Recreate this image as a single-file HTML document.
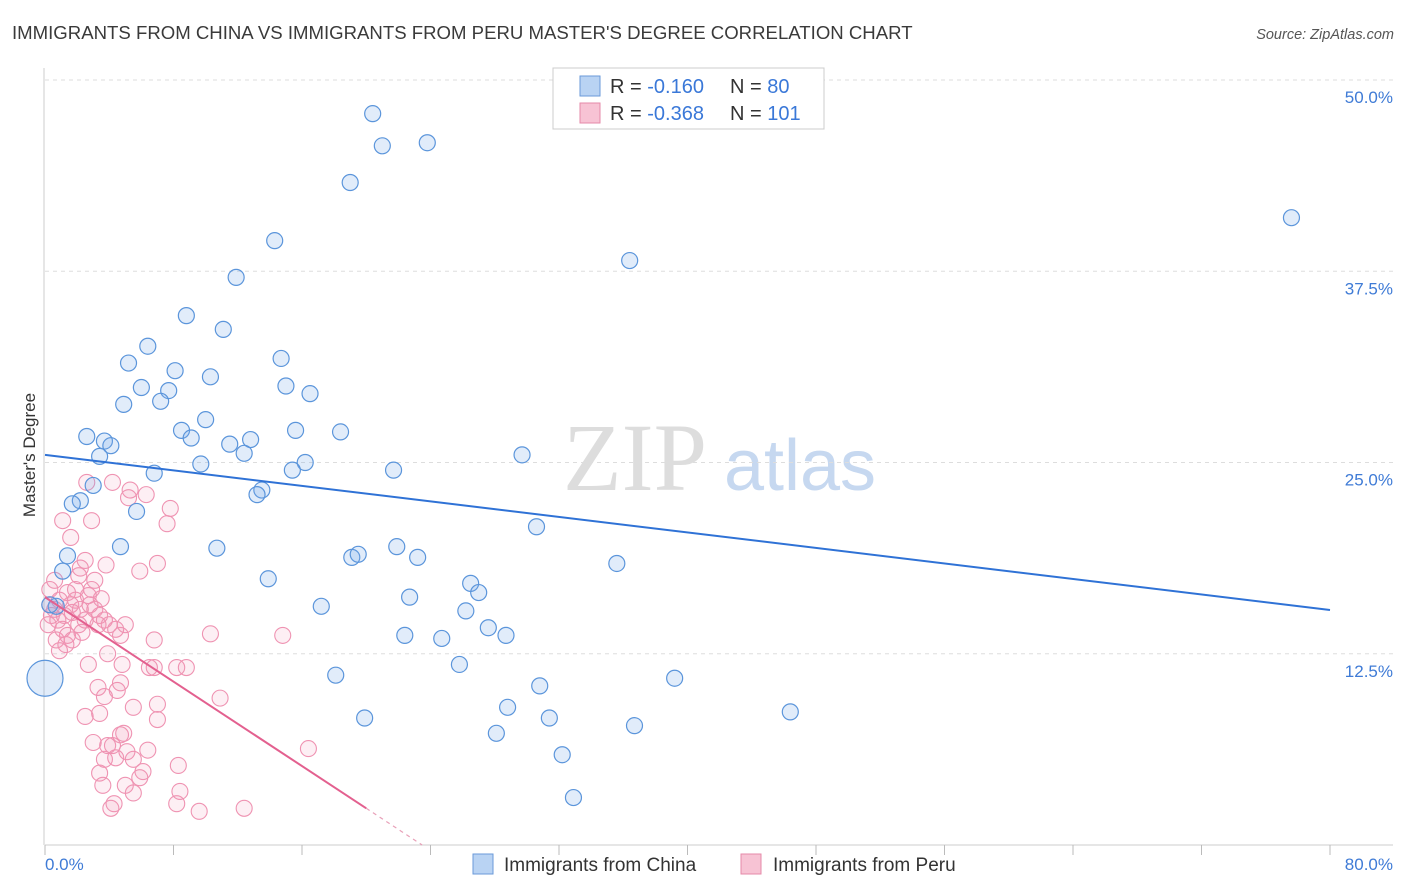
<!DOCTYPE html>
<html><head><meta charset="utf-8"><style>
body{margin:0;background:#fff;font-family:"Liberation Sans",sans-serif;}
#wrap{position:relative;width:1406px;height:892px;overflow:hidden;}
</style></head><body>
<div id="wrap">
<svg id="chart" width="1406" height="892" style="position:absolute;left:0;top:0;font-family:'Liberation Sans',sans-serif">
<text x="12" y="39" font-size="18.6" fill="#3a3a3a">IMMIGRANTS FROM CHINA VS IMMIGRANTS FROM PERU MASTER'S DEGREE CORRELATION CHART</text>
<text x="1394" y="39" font-size="14.5" fill="#555" text-anchor="end" font-style="italic">Source: ZipAtlas.com</text>
<text x="35" y="455" font-size="17" fill="#333" text-anchor="middle" transform="rotate(-90 35 455)">Master's Degree</text>
<g>
<text x="635" y="490" font-size="96" fill="#ddd" text-anchor="middle" font-family="Liberation Serif,serif">ZIP</text>
<text x="800" y="490" font-size="72" fill="#c6d8f0" text-anchor="middle">atlas</text>
</g>
<g id="grid"></g><g id="axes"></g><g id="pts"></g><g id="lines"></g>
<g>
<rect x="553" y="68" width="271" height="61" fill="#fff" stroke="#ccc"/>
<rect x="580" y="76" width="20" height="20" fill="#b9d3f3" stroke="#6a9ad8"/>
<rect x="580" y="103" width="20" height="20" fill="#f7c3d4" stroke="#e58aa8"/>
<text x="610" y="93" font-size="20" fill="#333">R = <tspan fill="#3a78d8">-0.160</tspan></text>
<text x="730" y="93" font-size="20" fill="#333">N = <tspan fill="#3a78d8"> 80</tspan></text>
<text x="610" y="120" font-size="20" fill="#333">R = <tspan fill="#3a78d8">-0.368</tspan></text>
<text x="730" y="120" font-size="20" fill="#333">N = <tspan fill="#3a78d8">101</tspan></text>
</g>
<g>
<rect x="473" y="854" width="20" height="20" fill="#b9d3f3" stroke="#6a9ad8"/>
<text x="504" y="871" font-size="19" fill="#333">Immigrants from China</text>
<rect x="741" y="854" width="20" height="20" fill="#f7c3d4" stroke="#e58aa8"/>
<text x="773" y="871" font-size="19" fill="#333">Immigrants from Peru</text>
</g>
</svg>
</div>
<script>
const yTicks=[12.5,25,37.5,50];
const yTickLabels=["12.5%","25.0%","37.5%","50.0%"];
const xTickCount=10;
const xTickLabels=["0.0%","80.0%"];
const chinaX=[20.4,21.0,23.8,19.0,77.6,14.3,36.4,11.9,8.8,11.1,6.4,5.2,8.1,14.7,10.3,6.0,7.7,15.0,16.5,4.9,7.2,10.0,8.5,9.1,2.6,3.7,4.1,3.4,11.5,12.8,12.4,15.6,18.4,9.7,16.2,15.4,6.8,21.7,29.7,13.5,13.2,3.0,2.2,1.7,5.7,30.6,4.7,10.7,21.9,1.4,19.1,19.5,23.2,35.6,1.1,13.9,26.5,27.0,22.7,17.2,26.2,27.6,28.7,22.4,24.7,25.8,18.1,39.2,30.8,28.8,46.4,19.9,31.4,36.7,28.1,32.2,32.9,0,0.7,0.3];
const chinaY=[47.8,45.7,45.9,43.3,41.0,39.5,38.2,37.1,34.6,33.7,32.6,31.5,31.0,31.8,30.6,29.9,29.7,30.0,29.5,28.8,29.0,27.8,27.1,26.6,26.7,26.4,26.1,25.4,26.2,26.5,25.6,27.1,27.0,24.9,25.0,24.5,24.3,24.5,25.5,23.2,22.9,23.5,22.5,22.3,21.8,20.8,19.5,19.4,19.5,18.9,18.8,19.0,18.8,18.4,17.9,17.4,17.1,16.5,16.2,15.6,15.3,14.2,13.7,13.7,13.5,11.8,11.1,10.9,10.4,9.0,8.7,8.3,8.3,7.8,7.3,5.9,3.1,10.9,15.6,15.7];
const chinaSize=chinaX.map((v,i)=>i===77?3:1);
const peruX=[0.3,0.4,0.6,0.2,0.9,0.8,1.2,1.6,1.1,0.6,1.4,1.9,1.7,2.2,2.5,2.8,3.1,3.3,3.4,3.7,4.0,4.4,4.7,2.1,2.3,1.7,1.3,1.1,1.6,2.6,2.9,4.2,5.3,5.2,6.3,7.8,7.6,7.0,5.9,3.1,3.8,2.5,2.2,2.1,2.9,3.5,5.0,6.8,10.3,14.8,8.2,8.8,6.8,4.8,3.9,2.7,3.3,4.7,4.5,3.7,10.9,2.5,3.4,5.5,7.0,7.0,4.9,3.0,3.9,4.7,4.2,6.4,5.1,16.4,4.4,3.7,5.5,8.3,3.4,6.1,5.9,5.0,3.6,5.5,8.4,4.3,4.1,8.2,12.4,9.6,6.5,0.9,1.4,1.9,2.7,0.3,0.7];
const peruY=[15.7,15.0,15.4,14.4,16.0,14.7,15.0,15.7,14.1,17.3,16.5,16.7,15.2,15.4,14.7,15.7,15.4,14.4,15.0,14.7,14.4,14.1,13.7,14.4,13.9,13.4,13.1,21.2,20.1,23.7,21.2,23.7,23.2,22.7,22.9,22.0,21.0,18.4,17.9,17.3,18.3,18.6,18.1,17.6,16.7,16.1,14.4,13.4,13.8,13.7,11.6,11.6,11.6,11.8,12.5,11.8,10.3,10.6,10.1,9.7,9.6,8.4,8.6,9.0,9.2,8.2,7.3,6.7,6.5,7.2,6.5,6.2,6.1,6.3,5.7,5.6,5.6,5.2,4.7,4.8,4.4,3.9,3.9,3.4,3.5,2.7,2.4,2.7,2.4,2.2,11.6,12.7,13.7,16.0,16.3,16.7,13.4];
const chinaTrend=[25.5,15.36];
const peruTrend=[16.2,2.4];
const peruTrendEnd=20.0;

const NS="http://www.w3.org/2000/svg";
const X0=45,X1=1330,Y0=845,Ytop=80;
const sx=v=>X0+(v/80)*(X1-X0);
const sy=v=>Y0-(v/50)*(Y0-Ytop);
function mk(tag,attrs,parent){const e=document.createElementNS(NS,tag);for(const k in attrs)e.setAttribute(k,attrs[k]);parent.appendChild(e);return e;}
const grid=document.getElementById('grid'),axes=document.getElementById('axes'),pts=document.getElementById('pts'),lines=document.getElementById('lines');
yTicks.forEach((t,i)=>{
 const g=mk('line',{x1:X0,x2:1393,y1:sy(t),y2:sy(t),stroke:'#ddd','stroke-dasharray':'4,4'},grid);
 
 
 const l=mk('text',{x:1393,y:sy(t)+23,'font-size':17,fill:'#3f7bd6','text-anchor':'end'},grid);
 l.textContent=yTickLabels[i];
 
 
});
const ya=mk('line',{x1:44,x2:44,y1:68,y2:Y0,stroke:'#ccc'},axes);


const xa=mk('line',{x1:X0,x2:1393,y1:Y0,y2:Y0,stroke:'#ccc'},axes);


for(let i=0;i<=xTickCount;i++){
 const tk=mk('line',{x1:sx(i*8),x2:sx(i*8),y1:Y0,y2:Y0+10,stroke:'#bbb'},axes);
 
 
}
const xl0=mk('text',{x:45,y:870,'font-size':17,fill:'#3f7bd6'},axes);xl0.textContent=xTickLabels[0];


const xl1=mk('text',{x:1393,y:870,'font-size':17,fill:'#3f7bd6','text-anchor':'end'},axes);xl1.textContent=xTickLabels[1];


peruX.forEach((v,i)=>{
 const c=mk('circle',{cx:sx(v),cy:sy(peruY[i]),r:8,fill:'rgba(243,150,180,0.15)',stroke:'#ef93b2','stroke-width':1.1},pts);
 
 
});
chinaX.forEach((v,i)=>{
 const c=mk('circle',{cx:sx(v),cy:sy(chinaY[i]),r:8*chinaSize[i]+ (chinaSize[i]>1?-6:0),fill:'rgba(120,170,230,0.22)',stroke:'#5b95db','stroke-width':1.2},pts);
 
 
});
const bl=mk('line',{x1:sx(0),y1:sy(chinaTrend[0]),x2:sx(80),y2:sy(chinaTrend[1]),stroke:'#2f72d6','stroke-width':2},lines);


const slope=(peruTrend[1]-peruTrend[0])/peruTrendEnd;
const pl=mk('line',{x1:sx(0),y1:sy(peruTrend[0]),x2:sx(peruTrendEnd),y2:sy(peruTrend[1]),stroke:'#e3608f','stroke-width':2},lines);


const zeroX=-peruTrend[0]/slope;
const pd=mk('line',{x1:sx(peruTrendEnd),y1:sy(peruTrend[1]),x2:sx(zeroX),y2:sy(0),stroke:'#e8a0b8','stroke-width':1.2,'stroke-dasharray':'4,4'},lines);


</script>
</body></html>
